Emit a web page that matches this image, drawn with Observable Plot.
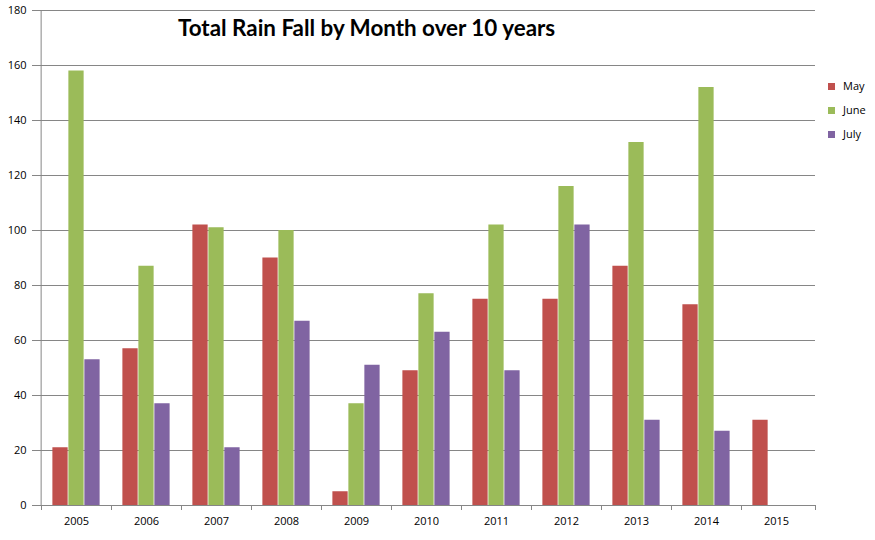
<!DOCTYPE html>
<html>
<head>
<meta charset="utf-8">
<script src="https://cdn.jsdelivr.net/npm/d3@7"></script>
<script src="https://cdn.jsdelivr.net/npm/@observablehq/plot@0.6"></script>
<style>
  html, body { margin: 0; padding: 0; background: #fff; }
  #wrap { position: relative; width: 875px; height: 540px; font-family: "Open Sans", sans-serif; }
  #title { position: absolute; left: 178px; top: 14px; font-family: Lato, sans-serif; font-weight: 700; font-size: 22.4px; color: #000; white-space: nowrap; }
  #legend { position: absolute; left: 828px; top: 74px; font-size: 11px; color: #000; }
  #legend div { display: flex; align-items: center; height: 24px; line-height: 18px; }
  #legend span.sw { display: inline-block; width: 7px; height: 7px; margin-right: 8px; }
</style>
</head>
<body>
<div id="wrap">
  <div id="chart"></div>
  <div id="title">Total Rain Fall by Month over 10 years</div>
  <div id="legend"></div>
</div>
<script>
const years = ["2005","2006","2007","2008","2009","2010","2011","2012","2013","2014","2015"];
const months = ["May","June","July"];
const may  = [21, 57, 102, 90, 5, 49, 75, 75, 87, 73, 31];
const june = [158, 87, 101, 100, 37, 77, 102, 116, 132, 152, null];
const july = [53, 37, 21, 67, 51, 63, 49, 102, 31, 27, null];
const yTicks = [0, 20, 40, 60, 80, 100, 120, 140, 160, 180];
const colors = ["#C0504D", "#9BBB59", "#8064A2"];

const series = [may, june, july];
const data = years.flatMap((y, i) => months.map((m, j) => ({year: y, month: m, value: series[j][i]})))
  .filter(d => d.value != null);

const W = 875, H = 540, mL = 37, mR = 60, mT = 10, mB = 35;
const step = (W - mL - mR) / years.length;
const barW = step * 0.226;
const pad = (step - 3 * barW) / 2;
const grey = "#868686";

const boundaryTicks = (index, scales, values, dimensions) => {
  const g = d3.create("svg:g").attr("stroke", grey).attr("stroke-width", 1);
  const y0 = dimensions.height - dimensions.marginBottom;
  const xs = years.map(y => scales.x(y));
  xs.push(dimensions.width - dimensions.marginRight);
  for (const x of xs) {
    const xx = Math.round(x) + 0.5;
    g.append("line").attr("x1", xx).attr("x2", xx).attr("y1", y0).attr("y2", y0 + 5);
  }
  return g.node();
};

const chart = Plot.plot({
  width: W, height: H,
  marginLeft: mL, marginRight: mR, marginTop: mT, marginBottom: mB,
  style: {fontFamily: "'Open Sans', sans-serif", fontSize: "11px", color: "#000", background: "#fff"},
  x: {domain: years, padding: 0, label: null},
  y: {domain: [0, 180], label: null},
  marks: [
    Plot.gridY(yTicks, {stroke: grey, strokeOpacity: 1}),
    ...months.map((m, j) => Plot.barY(data.filter(d => d.month === m), {
      x: "year", y: "value", fill: colors[j],
      insetLeft: pad + j * barW, insetRight: pad + (2 - j) * barW
    })),
    Plot.ruleX([years[0]], {stroke: grey, dx: -step / 2}),
    Plot.ruleY([0], {stroke: grey}),
    Plot.axisY(yTicks, {tickSize: 5, tickPadding: 6, stroke: grey, fill: "#000", tickFormat: d => String(d), label: null}),
    Plot.axisX({tickSize: 0, tickPadding: 12, fill: "#000", label: null}),
    boundaryTicks
  ]
});
document.getElementById("chart").appendChild(chart);

const legend = document.getElementById("legend");
months.forEach((m, j) => {
  const row = document.createElement("div");
  row.innerHTML = `<span class="sw" style="background:${colors[j]}"></span><span>${m}</span>`;
  legend.appendChild(row);
});
</script>
</body>
</html>
